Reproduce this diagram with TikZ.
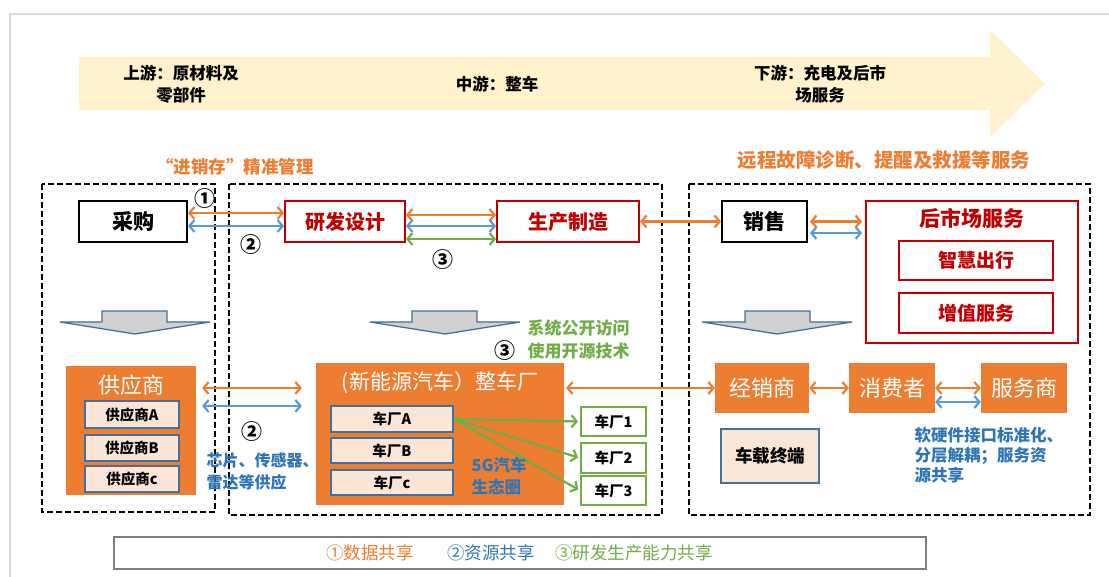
\documentclass[tikz,border=0pt]{standalone}
\usepackage{fontspec}
\setmainfont{Noto Sans CJK SC}
\usetikzlibrary{arrows.meta}
\definecolor{org}{HTML}{ED7D31}
\definecolor{redc}{HTML}{C00000}
\definecolor{barr}{HTML}{5B9BD5}
\definecolor{grn}{HTML}{70AD47}
\definecolor{stb}{HTML}{41719C}
\definecolor{peach}{HTML}{FBE5D6}
\definecolor{btxt}{HTML}{2E75B6}
\definecolor{ylw}{HTML}{FFF2CC}
\newcommand\FS[2]{\fontsize{#1}{#2}\selectfont}
\tikzset{
  sz/.style 2 args={minimum width=#1pt,minimum height=#2pt,inner sep=0pt},
  dbox/.style={draw=black,line width=1.8pt,dash pattern=on 6pt off 3pt},
  kbox/.style={draw=black,line width=2pt,font=\FS{21}{24}\bfseries},
  rbox/.style={draw=redc,line width=2pt,text=redc,font=\FS{20}{24}\bfseries},
  obox/.style={fill=org,text=white},
  pbox/.style={fill=peach,draw=stb,line width=2pt,font=\FS{14.5}{17}\bfseries},
  gbox/.style={fill=white,draw=grn,line width=2pt,font=\FS{14.5}{17}\bfseries},
  arr/.style={line width=2.2pt,{Straight Barb[length=5pt,width=12pt]}-{Straight Barb[length=5pt,width=12pt]}},
  garr/.style={line width=2.2pt,draw=grn,-{Straight Barb[length=5pt,width=12pt]}},
  num/.style={font=\FS{21}{22}\bfseries,inner sep=0pt},
  dnarrow/.style={fill=black!18,draw=stb,line width=1.3pt,line join=miter}
}
\begin{document}
\begin{tikzpicture}[x=1pt,y=-1pt]
\useasboundingbox (0,0) rectangle (1109,577);
% frame
\draw[black!15,line width=1.5pt] (1109,14) -- (10,14) -- (10,577);
% big arrow
\fill[ylw] (79,57) -- (990,57) -- (990,30) -- (1045,83.5) -- (990,137) -- (990,110) -- (79,110) -- cycle;
\node[align=center,font=\FS{16.5}{22}\bfseries] (up) at (181,84) {上游：原材料及\\零部件};
\node[font=\FS{16.5}{22}\bfseries] (mid) at (497,84) {中游：整车};
\node[align=center,font=\FS{16.5}{22}\bfseries] (down) at (820,84) {下游：充电及后市\\场服务};
% headings
\node[text=org,font=\FS{17.5}{20}\bfseries] (jxc) at (235,167) {“进销存”精准管理};
\node[text=org,font=\FS{19.5}{22}\bfseries] (ycgz) at (884,160) {远程故障诊断、提醒及救援等服务};
% dashed regions
\draw[dbox] (42,184) rectangle (215,512);
\draw[dbox] (229,184) rectangle (662,515);
\draw[dbox] (689,184) rectangle (1090,515);
% top row
\node[kbox,sz={108}{41}] (cg) at (133,221.5) {采购};
\node[rbox,sz={120}{41}] (yf) at (345,221.5) {研发设计};
\node[rbox,sz={142}{41}] (sc) at (568,221.5) {生产制造};
\node[kbox,sz={85}{41}] (xs) at (764.5,221.5) {销售};
\node[draw=redc,line width=2pt,sz={212}{142}] (hsc) at (972,272) {};
\node[text=redc,font=\FS{21}{24}\bfseries] (hsct) at (972,218) {后市场服务};
\node[rbox,sz={154}{39},font=\FS{19}{22}\bfseries] (zh) at (976,260.5) {智慧出行};
\node[rbox,sz={154}{40},font=\FS{19}{22}\bfseries] (zz) at (976,313) {增值服务};
% top arrows
\draw[arr,org] ([yshift=8.5pt]cg.east) -- ([yshift=8.5pt]cg.east -| yf.west);
\draw[arr,barr] ([yshift=-4.5pt]cg.east) -- ([yshift=-4.5pt]cg.east -| yf.west);
\node[num] (n1a) at (205,199) {①};
\node[num] (n2a) at (251,245) {②};
\draw[arr,org] ([yshift=6.5pt]yf.east) -- ([yshift=6.5pt]yf.east -| sc.west);
\draw[arr,barr] ([yshift=-4.5pt]yf.east) -- ([yshift=-4.5pt]yf.east -| sc.west);
\draw[arr,grn] ([yshift=-17.5pt]yf.east) -- ([yshift=-17.5pt]yf.east -| sc.west);
\node[num] (n3a) at (443,260) {③};
\draw[arr,org] (sc.east) -- (xs.west);
\draw[arr,org,shorten <=2pt,shorten >=3pt] (xs.east) -- (xs.east -| hsc.west);
\draw[arr,barr,shorten <=2pt,shorten >=3pt] ([yshift=-11.5pt]xs.east) -- ([yshift=-11.5pt]xs.east -| hsc.west);
% down arrows
\draw[dnarrow] (102,311) -- (167,311) -- (167,322) -- (210,322) -- (135,334) -- (60,322) -- (102,322) -- cycle;
\draw[dnarrow] (412,311) -- (477,311) -- (477,322) -- (520,322) -- (445,334) -- (370,322) -- (412,322) -- cycle;
\draw[dnarrow] (745,311) -- (810,311) -- (810,322) -- (852,322) -- (777,334) -- (702,322) -- (745,322) -- cycle;
% suppliers
\node[obox,sz={130}{129}] (gys) at (131,430.5) {};
\node[text=white,font=\FS{22}{24}] (gyst) at (131,385) {供应商};
\node[pbox,sz={94}{27}] (gA) at (132,414.5) {供应商A};
\node[pbox,sz={94}{26}] (gB) at (132,448) {供应商B};
\node[pbox,sz={94}{26}] (gC) at (132,479) {供应商c};
% OEM
\node[obox,sz={248}{142}] (zcc) at (440,434) {};
\node[text=white,font=\FS{21}{24}] (zcct) at (440,383) {(新能源汽车）整车厂};
\node[pbox,sz={122}{26}] (cA) at (392,419) {车厂A};
\node[pbox,sz={122}{25}] (cB) at (392,450.5) {车厂B};
\node[pbox,sz={122}{25}] (cC) at (392,482.5) {车厂c};
\node[gbox,sz={65}{29}] (c1) at (613.5,421.5) {车厂1};
\node[gbox,sz={65}{30}] (c2) at (613.5,458) {车厂2};
\node[gbox,sz={65}{29}] (c3) at (613.5,490.5) {车厂3};
\draw[garr,shorten >=2pt] (cA.east) -- (c1.west);
\draw[garr,shorten >=2pt] (cA.east) -- (c2.west);
\draw[garr,shorten >=2pt] (cA.east) -- (c3.west);
\node[anchor=west,align=left,text=btxt,font=\FS{16.5}{22}\bfseries] (g5) at (468,476) {5G汽车\\生态圈};
\draw[arr,org,shorten <=6pt,shorten >=14pt] ([yshift=42.5pt]gys.east) -- ([yshift=42.5pt]gys.east -| zcc.west);
\draw[arr,barr,shorten <=6pt,shorten >=14pt] ([yshift=24.5pt]gys.east) -- ([yshift=24.5pt]gys.east -| zcc.west);
\node[num] (n2b) at (252,432) {②};
\node[anchor=west,align=left,text=btxt,font=\FS{16}{22}\bfseries] (xp) at (203,471) {芯片、传感器、\\雷达等供应};
\node[anchor=west,align=left,text=grn,font=\FS{17}{23}\bfseries] (xt) at (524,339.5) {系统公开访问\\使用开源技术};
\node[num] (n3b) at (505,351) {③};
% right bottom
\node[obox,sz={94}{50},font=\FS{22}{24}] (jxs) at (762,388) {经销商};
\node[obox,sz={86}{50},font=\FS{22}{24}] (xfz) at (892,388) {消费者};
\node[obox,sz={86}{50},font=\FS{22}{24}] (fws) at (1024,388) {服务商};
\node[pbox,sz={98}{54},font=\FS{17.5}{20}\bfseries] (czd) at (770,456) {车载终端};
\draw[arr,org,shorten <=2pt,shorten >=0pt] (jxs.west -| zcc.east) -- (jxs.west);
\draw[arr,org] (jxs.east) -- (xfz.west);
\draw[arr,org] (xfz.east) -- (fws.west);
\draw[arr,barr] ([yshift=-14pt]xfz.east) -- ([yshift=-14pt]xfz.east -| fws.west);
\node[anchor=west,align=left,text=btxt,font=\FS{16.5}{20}\bfseries] (rj) at (911,455) {软硬件接口标准化、\\分层解耦；服务资\\源共享};
% legend
\node[draw=black!50,line width=2pt,sz={812}{32}] (lg) at (520,553) {};
\node[text=org,font=\FS{17.5}{18}] (l1) at (370,553) {①数据共享};
\node[text=btxt,font=\FS{17.5}{18}] (l2) at (491,553) {②资源共享};
\node[text=grn,font=\FS{17.5}{18}] (l3) at (634,553) {③研发生产能力共享};
\end{tikzpicture}
\end{document}
